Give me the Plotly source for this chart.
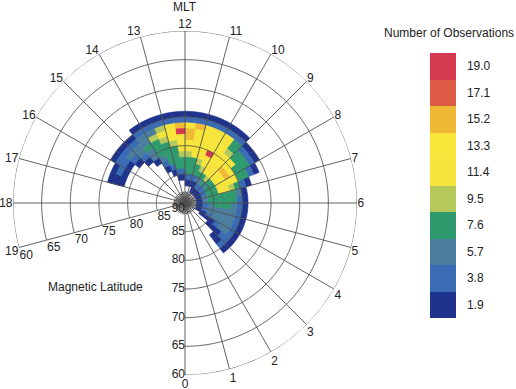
import numpy as np
import plotly.graph_objects as go

# ---------------- data ----------------
# MLT bin centres (hours); each bin is 0.5 h wide
mlt_centres = [2.75, 3.25, 3.75, 4.25, 4.75, 5.25, 5.75, 6.25, 6.75, 7.25,
               7.75, 8.25, 8.75, 9.25, 9.75, 10.25, 10.75, 11.25, 11.75, 12.25,
               12.75, 13.25, 13.75, 14.25, 14.75, 15.25, 15.75, 16.25, 16.75]
# lower edge of each 1-degree magnetic latitude bin
lat_edges = [73, 74, 75, 76, 77, 78, 79, 80, 81, 82, 83, 84, 85, 86, 87, 88]

# number of observations, one row per MLT bin, columns follow lat_edges (0 = no data)
obs_counts = [
    [0, 0, 0, 0, 0, 0, 2, 3, 2, 1, 0, 0, 0, 0, 0, 0],
    [0, 0, 0, 0, 0, 0, 2, 4, 3, 2, 2, 1, 0, 0, 0, 0],
    [0, 0, 0, 0, 0, 0, 2, 4, 5, 5, 4, 2, 2, 1, 0, 0],
    [0, 0, 0, 0, 0, 0, 2, 4, 6, 6, 6, 5, 3, 2, 1, 0],
    [0, 0, 0, 0, 0, 0, 2, 4, 6, 6, 6, 6, 5, 3, 2, 0],
    [0, 0, 0, 0, 0, 0, 2, 4, 6, 6, 6, 6, 5, 4, 2, 0],
    [0, 0, 0, 0, 0, 0, 2, 4, 6, 7, 7, 7, 6, 4, 2, 0],
    [0, 0, 0, 0, 0, 0, 2, 4, 7, 8, 8, 8, 7, 5, 2, 0],
    [0, 0, 0, 0, 0, 0, 2, 5, 8, 8, 8, 8, 7, 5, 2, 0],
    [0, 0, 0, 0, 0, 2, 4, 8, 10, 12, 11, 8, 7, 5, 2, 0],
    [0, 0, 0, 2, 4, 7, 8, 12, 13, 13, 12, 8, 7, 4, 2, 0],
    [0, 0, 2, 3, 7, 8, 8, 12, 15, 13, 12, 8, 7, 4, 2, 0],
    [0, 0, 2, 4, 7, 8, 12, 13, 15, 13, 11, 8, 6, 3, 2, 0],
    [0, 2, 4, 8, 8, 9, 12, 13, 13, 12, 12, 9, 7, 4, 2, 0],
    [0, 2, 4, 11, 12, 13, 13, 14, 13, 12, 11, 8, 6, 3, 2, 0],
    [0, 2, 4, 12, 13, 13, 14, 19, 13, 12, 9, 8, 5, 2, 1, 0],
    [0, 2, 4, 12, 13, 14, 13, 13, 12, 10, 8, 7, 4, 2, 0, 0],
    [0, 2, 4, 15, 14, 13, 13, 12, 11, 8, 8, 7, 3, 2, 0, 0],
    [0, 2, 4, 13, 16, 15, 13, 12, 10, 8, 7, 7, 3, 1, 0, 0],
    [0, 2, 3, 15, 19, 13, 12, 12, 10, 8, 7, 4, 2, 0, 0, 0],
    [0, 2, 4, 12, 13, 12, 10, 8, 8, 7, 7, 3, 2, 0, 0, 0],
    [0, 2, 4, 10, 12, 10, 8, 8, 7, 7, 4, 2, 0, 0, 0, 0],
    [0, 2, 4, 6, 9, 8, 7, 7, 6, 4, 2, 0, 0, 0, 0, 0],
    [0, 1, 3, 5, 6, 7, 6, 5, 2, 0, 0, 0, 0, 0, 0, 0],
    [0, 0, 2, 4, 5, 5, 4, 2, 0, 0, 0, 0, 0, 0, 0, 0],
    [0, 0, 2, 3, 5, 4, 2, 0, 0, 0, 0, 0, 0, 0, 0, 0],
    [0, 0, 1, 3, 4, 2, 0, 0, 0, 0, 0, 0, 0, 0, 0, 0],
    [0, 0, 0, 2, 3, 2, 0, 0, 0, 0, 0, 0, 0, 0, 0, 0],
    [0, 0, 0, 1, 2, 1, 0, 0, 0, 0, 0, 0, 0, 0, 0, 0],
]

# colour bar levels and labels
level_values = [1.9, 3.8, 5.7, 7.6, 9.5, 11.4, 13.3, 15.2, 17.1, 19.0]
level_labels = ["1.9", "3.8", "5.7", "7.6", "9.5", "11.4", "13.3", "15.2", "17.1", "19.0"]
level_colors = ["#1f338c", "#3a6cb5", "#4b7e9e", "#2f9a6e", "#b5c95a",
                "#f6e43c", "#f7e53a", "#efb935", "#dd5a45", "#d5394f"]

# grid: MLT hours shown, latitude circles
mlt_hours = list(range(0, 20))
lat_circles = [85, 80, 75, 70, 65, 60]
lat_labels = ["90", "85", "80", "75", "70", "65", "60"]

# ---------------- helpers ----------------
HOUR_DEG = 15.0
BIN_HOURS = 0.5
cmin = level_values[0] / 2
cmax = level_values[-1] + level_values[0] / 2
n_lev = len(level_values)


def level_color(v):
    idx = int((v - cmin) / (cmax - cmin) * n_lev)
    return level_colors[max(0, min(n_lev - 1, idx))]


colorscale = []
for i, c in enumerate(level_colors):
    colorscale.append([i / n_lev, c])
    colorscale.append([(i + 1) / n_lev, c])

theta, base, rlen, vals, cols = [], [], [], [], []
for m, row in zip(mlt_centres, obs_counts):
    for lat, v in zip(lat_edges, row):
        if v <= 0:
            continue
        theta.append(m * HOUR_DEG)
        base.append(90 - (lat + 1))
        rlen.append(1)
        vals.append(v)
        cols.append(level_color(v))

FONT = "Liberation Sans"
TXT = "#222222"
GRID = "#505050"

fig = go.Figure()

fig.add_trace(go.Barpolar(
    theta=theta, r=rlen, base=base, width=[BIN_HOURS * HOUR_DEG] * len(theta),
    marker=dict(
        color=vals, colorscale=colorscale, cmin=cmin, cmax=cmax,
        line=dict(color=cols, width=0.6),
        colorbar=dict(
            tickvals=level_values, ticktext=level_labels,
            x=430 / 516, xanchor="left", xpad=0,
            y=(389 - 185.5) / 389, yanchor="middle", ypad=0,
            len=265 / 389, lenmode="fraction",
            thickness=26, thicknessmode="pixels",
            outlinewidth=0, ticks="outside", ticklen=9,
            tickcolor="rgba(0,0,0,0)",
            tickfont=dict(family=FONT, size=12, color=TXT),
        ),
    ),
    hoverinfo="skip", showlegend=False,
))

# latitude circles over the MLT 0..19 sector
arc = np.linspace(0, mlt_hours[-1] * HOUR_DEG, 400)
gr, gt = [], []
for lat in lat_circles:
    gr += [90 - lat] * len(arc) + [None]
    gt += list(arc) + [None]
# hour spokes
for h in mlt_hours:
    gr += [0, 30, None]
    gt += [h * HOUR_DEG, h * HOUR_DEG, None]
# dense spokes near the pole
for k in range(48):
    gr += [0, 2.0, None]
    gt += [k * 7.5, k * 7.5, None]

fig.add_trace(go.Scatterpolar(
    r=gr, theta=gt, mode="lines", line=dict(color=GRID, width=0.9),
    hoverinfo="skip", showlegend=False, connectgaps=False,
))

# latitude labels along MLT 0 line
lab_r = [90 - int(t) for t in lat_labels]
fig.add_trace(go.Scatterpolar(
    r=lab_r, theta=[0] * len(lab_r), mode="text", text=lat_labels,
    textposition=["bottom left"] + ["middle left"] * (len(lab_r) - 1),
    textfont=dict(family=FONT, size=12, color=TXT),
    hoverinfo="skip", showlegend=False, cliponaxis=False,
))
# latitude labels along MLT 19 line (set just below the line)
fig.add_trace(go.Scatterpolar(
    r=lab_r[1:], theta=[mlt_hours[-1] * HOUR_DEG + 0.8] * (len(lab_r) - 1), mode="text",
    text=lat_labels[1:], textposition="bottom right",
    textfont=dict(family=FONT, size=12, color=TXT),
    hoverinfo="skip", showlegend=False, cliponaxis=False,
))

ann_font = dict(family=FONT, size=12, color=TXT)
fig.update_layout(
    width=516, height=389,
    margin=dict(l=0, r=0, t=0, b=0),
    paper_bgcolor="white",
    font=dict(family=FONT, size=12, color=TXT),
    polar=dict(
        domain=dict(x=[13 / 516, 357 / 516], y=[14 / 389, 358 / 389]),
        bgcolor="rgba(0,0,0,0)",
        barmode="overlay",
        radialaxis=dict(range=[0, 30], showgrid=False, showline=False,
                        showticklabels=False, ticks=""),
        angularaxis=dict(
            rotation=-90, direction="counterclockwise",
            tickmode="array",
            tickvals=[h * HOUR_DEG for h in mlt_hours],
            ticktext=[str(h) for h in mlt_hours],
            showgrid=False, showline=False, ticks="",
            tickfont=dict(family=FONT, size=12, color=TXT),
        ),
    ),
    annotations=[
        dict(text="MLT", x=185 / 516, y=(389 - 7) / 389, xref="paper", yref="paper",
             xanchor="center", yanchor="middle", showarrow=False, font=ann_font),
        dict(text="Magnetic Latitude", x=95 / 516, y=(389 - 287) / 389,
             xref="paper", yref="paper", xanchor="center", yanchor="middle",
             showarrow=False, font=ann_font),
        dict(text="Number of Observations", x=449 / 516, y=(389 - 33) / 389,
             xref="paper", yref="paper", xanchor="center", yanchor="middle",
             showarrow=False, font=ann_font),
    ],
)

fig.write_html("out.html")
